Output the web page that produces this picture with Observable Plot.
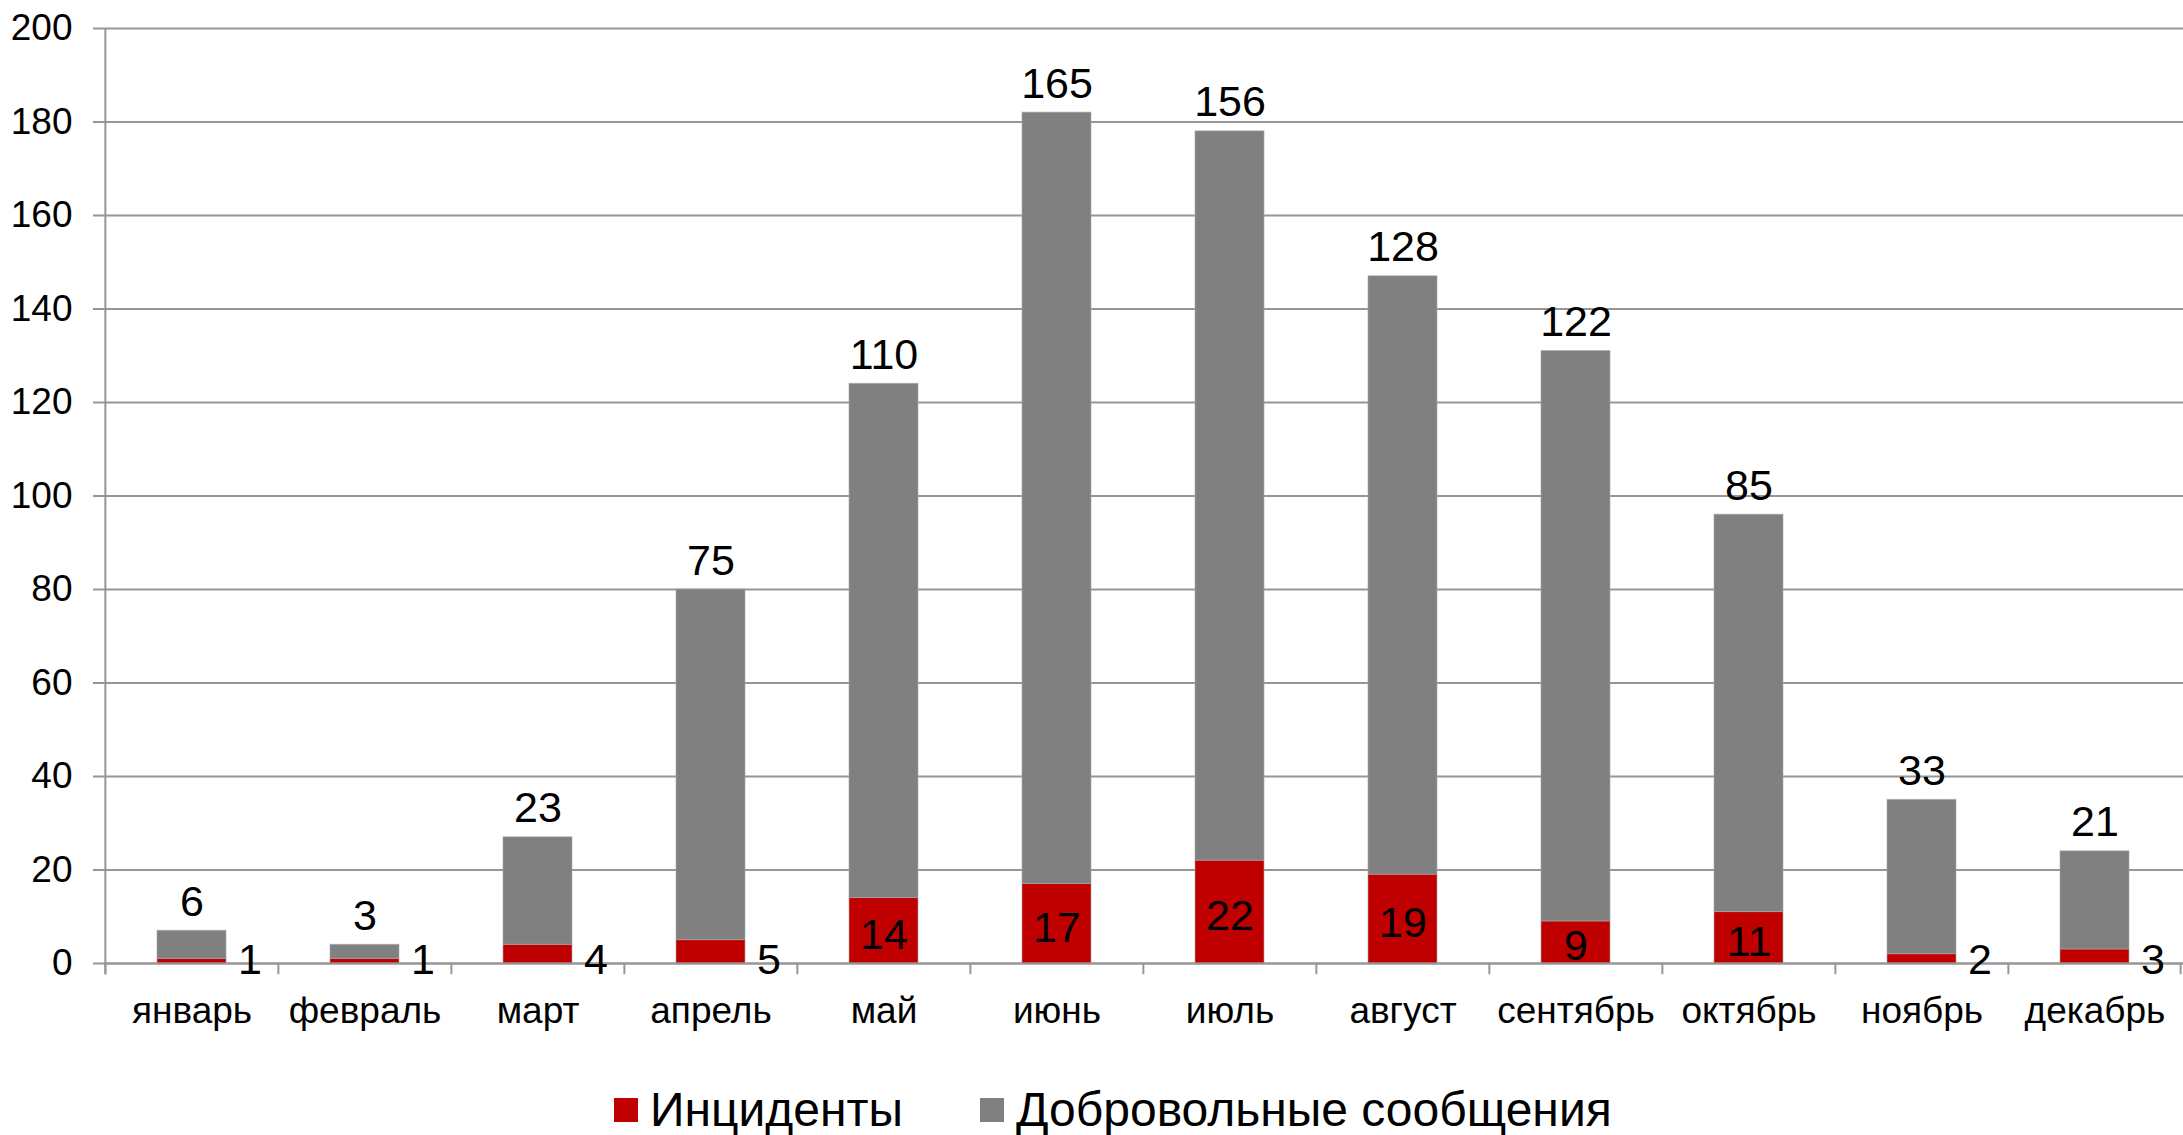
<!DOCTYPE html>
<html>
<head>
<meta charset="utf-8">
<script src="https://cdn.jsdelivr.net/npm/d3@7"></script>
<script src="https://cdn.jsdelivr.net/npm/@observablehq/plot@0.6"></script>
<style>
  html, body { margin: 0; padding: 0; background: #fff; }
  body { width: 2183px; height: 1135px; position: relative; overflow: hidden; font-family: "Liberation Sans", Arial, sans-serif; }
  #chart svg { display: block; }
  #legend { position: absolute; left: 614px; top: 1082px; display: flex; align-items: center; font-size: 48px; line-height: 56px; color: #000; white-space: nowrap; }
  .item { display: flex; align-items: center; }
  .sw { width: 24px; height: 24px; margin-right: 12px; }
</style>
</head>
<body>
<div id="chart"></div>
<div id="legend"></div>
<script>
const months = ["январь","февраль","март","апрель","май","июнь","июль","август","сентябрь","октябрь","ноябрь","декабрь"];
const incidents = [1, 1, 4, 5, 14, 17, 22, 19, 9, 11, 2, 3];
const voluntary = [6, 3, 23, 75, 110, 165, 156, 128, 122, 85, 33, 21];
const seriesNames = ["Инциденты", "Добровольные сообщения"];
const seriesColors = ["#C00000", "#808080"];
const yTicks = [0, 20, 40, 60, 80, 100, 120, 140, 160, 180, 200];

const W = 2183, H = 1055, ML = 104, MR = 0, MT = 28, MB = 92;
const step = (W - ML - MR) / months.length;
const gridColor = "#969696";

const rows = [];
months.forEach((m, i) => {
  rows.push({month: m, series: seriesNames[0], value: incidents[i]});
  rows.push({month: m, series: seriesNames[1], value: voluntary[i]});
});
const totals = months.map((m, i) => ({month: m, inc: incidents[i], vol: voluntary[i], total: incidents[i] + voluntary[i]}));

const chart = Plot.plot({
  width: W, height: H,
  marginLeft: ML, marginRight: MR, marginTop: MT, marginBottom: MB,
  style: {fontFamily: "'Liberation Sans', Arial, sans-serif", color: "#000", background: "#fff", overflow: "visible"},
  x: {domain: months, paddingInner: 0.6, paddingOuter: 0.3, label: null},
  y: {domain: [0, 200], label: null},
  color: {domain: seriesNames, range: seriesColors},
  marks: [
    Plot.gridY(yTicks, {stroke: gridColor, strokeOpacity: 1, strokeWidth: 2}),
    Plot.axisY(yTicks, {tickSize: 11, tickPadding: 21, stroke: gridColor, strokeWidth: 2, fontSize: 37, fill: "#000", label: null}),
    Plot.axisX({tickSize: 0, tickPadding: 33, fontSize: 37, fill: "#000", label: null}),
    Plot.barY(rows, {x: "month", y: "value", fill: "series", order: seriesNames, stroke: "#a6a6a6", strokeWidth: 1, strokeOpacity: 0.6}),
    Plot.ruleY([0], {stroke: gridColor, strokeWidth: 2}),
    Plot.ruleX([months[0]], {x: d => d, dx: -step / 2, y1: -2.4, y2: 200, stroke: gridColor, strokeWidth: 2}),
    Plot.ruleX(months, {x: d => d, dx: -step / 2, y1: 0, y2: -2.4, stroke: gridColor, strokeWidth: 2}),
    Plot.ruleX([months[months.length - 1]], {x: d => d, dx: step / 2 - 1, y1: 0, y2: -2.4, stroke: gridColor, strokeWidth: 2}),
    Plot.text(totals, {x: "month", y: "total", text: d => String(d.vol), lineAnchor: "bottom", dy: -15, fontSize: 43, fill: "#000"}),
    Plot.text(totals.filter(d => d.inc >= 6), {x: "month", y: d => d.inc / 2, text: d => String(d.inc), lineAnchor: "middle", dy: 4, fontSize: 43, fill: "#000"}),
    Plot.text(totals.filter(d => d.inc < 6), {x: "month", y: 0, text: d => String(d.inc), lineAnchor: "middle", dx: 58, dy: -3, fontSize: 43, fill: "#000"})
  ]
});
document.getElementById("chart").appendChild(chart);

const legend = document.getElementById("legend");
seriesNames.forEach((name, i) => {
  const item = document.createElement("div");
  item.className = "item";
  if (i > 0) item.style.marginLeft = "77px";
  const sw = document.createElement("div");
  sw.className = "sw";
  sw.style.background = seriesColors[i];
  const label = document.createElement("span");
  label.textContent = name;
  item.appendChild(sw);
  item.appendChild(label);
  legend.appendChild(item);
});
</script>
</body>
</html>
